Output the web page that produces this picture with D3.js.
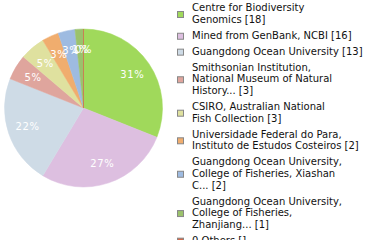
<!DOCTYPE html>
<html>
<head>
<meta charset="utf-8">
<script src="https://cdn.jsdelivr.net/npm/d3@7"></script>
<style>
  body { margin: 0; background: #fff; }
  svg { display: block; font-family: "DejaVu Sans", sans-serif; }
</style>
</head>
<body>
<div id="chart"></div>
<script>
let width = 380,
    height = 240;

const labels = [
    ["Centre for Biodiversity", "Genomics [18]"],
    ["Mined from GenBank, NCBI [16]"],
    ["Guangdong Ocean University [13]"],
    ["Smithsonian Institution,", "National Museum of Natural", "History... [3]"],
    ["CSIRO, Australian National", "Fish Collection [3]"],
    ["Universidade Federal do Para,", "Instituto de Estudos Costeiros [2]"],
    ["Guangdong Ocean University,", "College of Fisheries, Xiashan", "C... [2]"],
    ["Guangdong Ocean University,", "College of Fisheries,", "Zhanjiang... [1]"],
    ["0 Others []"]
];
const counts = [18, 16, 13, 3, 3, 2, 2, 1, 0];
const colors = ["#a0d95b", "#ddbfe0", "#cedbe6", "#dfa59d", "#dfe19f",
                "#f0ad6e", "#9ebbe1", "#9bc26c", "#d5694a"];

let svg = d3.select("#chart")
    .append("svg")
    .attr("width", width)
    .attr("height", height);

let cx = 83.5, cy = 108, r = 79;
let total = d3.sum(counts);

let pie = d3.pie().sort(null).value(d => d);
let arc = d3.arc().innerRadius(0).outerRadius(r);
let labelArc = d3.arc().innerRadius(59).outerRadius(59);

let slices = pie(counts);

let g = svg.append("g").attr("transform", `translate(${cx},${cy})`);

g.selectAll("path")
    .data(slices)
    .enter()
    .append("path")
    .attr("d", arc)
    .attr("fill", (d, i) => colors[i])
    .attr("stroke", (d, i) => colors[i])
    .attr("stroke-width", 0.5);

g.selectAll("text")
    .data(slices)
    .enter()
    .append("text")
    .attr("transform", d => `translate(${labelArc.centroid(d)})`)
    .attr("text-anchor", "middle")
    .attr("dy", "0.35em")
    .attr("fill", "#fff")
    .attr("font-size", 10)
    .attr("letter-spacing", 0.6)
    .text(d => Math.floor(d.value / total * 100) + "%");

// legend
let lineH = 11.7, gap = 4.2, y = 11.3;
let legend = svg.append("g");
labels.forEach((lines, i) => {
    let first = y;
    let last = y + (lines.length - 1) * lineH;
    let mid = (first - 7.3 + last) / 2 + 1;
    legend.append("rect")
        .attr("x", 177.5)
        .attr("y", mid - 3)
        .attr("width", 6)
        .attr("height", 6)
        .attr("fill", colors[i])
        .attr("stroke", "#888")
        .attr("stroke-width", 1);
    let t = legend.append("text")
        .attr("x", 192)
        .attr("y", first)
        .attr("font-size", 10)
        .attr("fill", "#111");
    lines.forEach((s, j) => {
        t.append("tspan")
            .attr("x", 192)
            .attr("y", first + j * lineH)
            .text(s);
    });
    y = last + lineH + gap;
});
</script>
</body>
</html>
